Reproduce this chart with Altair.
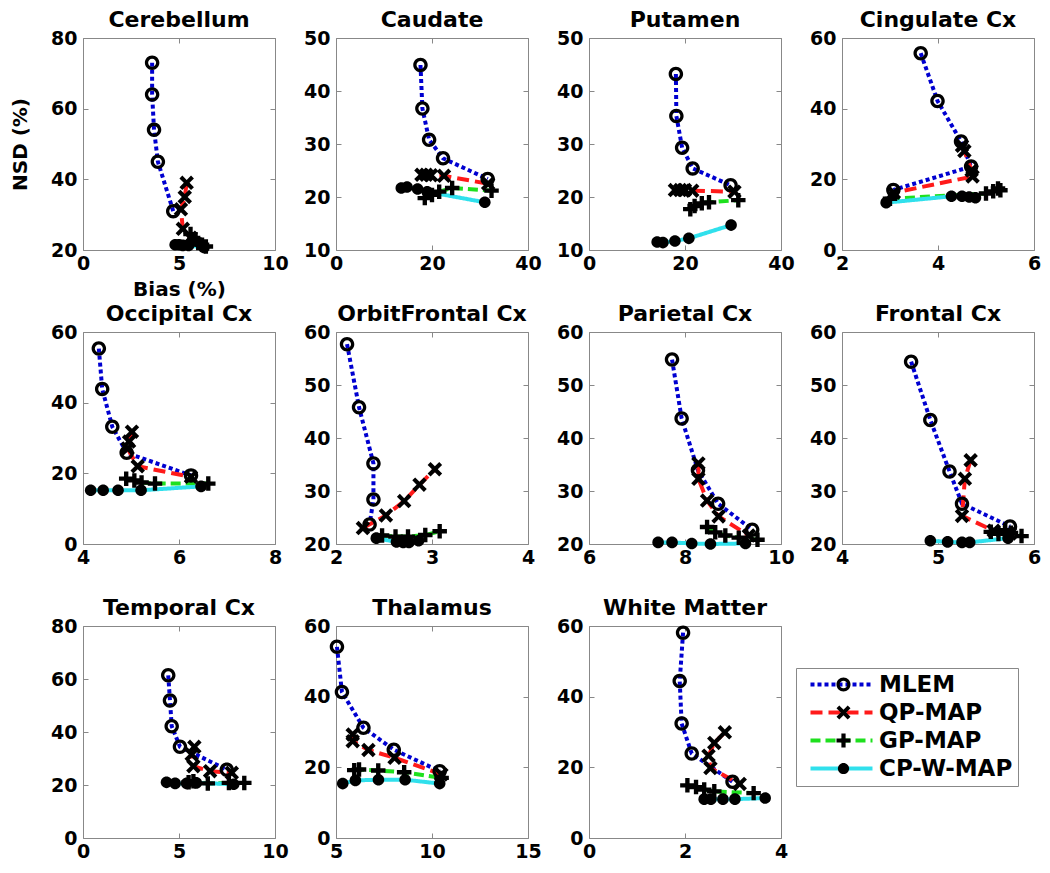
import altair as alt
import pandas as pd

REGIONS = ["Cerebellum", "Caudate", "Putamen", "Cingulate Cx",
           "Occipital Cx", "OrbitFrontal Cx", "Parietal Cx", "Frontal Cx",
           "Temporal Cx", "Thalamus", "White Matter"]
METHODS = ["MLEM", "QP-MAP", "GP-MAP", "CP-W-MAP"]

# ---- per-panel axes ----
X_DOMAINS = [[0, 10], [0, 40], [0, 40], [2, 6], [4, 8], [2, 4], [6, 10], [4, 6], [0, 10], [5, 15], [0, 4]]
X_TICKS = [[0, 5, 10], [0, 20, 40], [0, 20, 40], [2, 4, 6], [4, 6, 8], [2, 3, 4], [6, 8, 10], [4, 5, 6],
           [0, 5, 10], [5, 10, 15], [0, 2, 4]]
Y_DOMAINS = [[20, 80], [10, 50], [10, 50], [0, 60], [0, 60], [20, 60], [20, 60], [20, 60], [0, 80], [0, 60], [0, 60]]
Y_TICKS = [[20, 40, 60, 80], [10, 20, 30, 40, 50], [10, 20, 30, 40, 50], [0, 20, 40, 60], [0, 20, 40, 60],
           [20, 30, 40, 50, 60], [20, 30, 40, 50, 60], [20, 30, 40, 50, 60], [0, 20, 40, 60, 80],
           [0, 20, 40, 60], [0, 20, 40, 60]]

# ---- data (Bias %, NSD %) ----
cer_mlem_bias = [3.6, 3.6, 3.7, 3.9, 4.7]
cer_mlem_nsd = [73, 64, 54, 45, 31]
cer_qp_bias = [5.4, 5.3, 5.1, 5.2, 5.6]
cer_qp_nsd = [39, 35, 31.5, 26, 23.5]
cer_gp_bias = [5.6, 5.8, 6.0, 6.2, 6.4]
cer_gp_nsd = [24.5, 23.0, 22.0, 21.5, 21.0]
cer_cp_bias = [4.8, 5.0, 5.2, 5.5, 6.3]
cer_cp_nsd = [21.5, 21.5, 21.3, 21.3, 20.7]

cau_mlem_bias = [17.6, 18.0, 19.4, 22.3, 31.6]
cau_mlem_nsd = [44.9, 36.7, 30.8, 27.3, 23.4]
cau_qp_bias = [17.8, 18.8, 19.8, 22.5, 31.7]
cau_qp_nsd = [24.2, 24.2, 24.1, 24.0, 22.5]
cau_gp_bias = [18.5, 20.0, 21.5, 24.2, 32.4]
cau_gp_nsd = [19.8, 20.4, 21.0, 21.7, 21.2]
cau_cp_bias = [13.6, 14.8, 17.0, 19.0, 31.0]
cau_cp_nsd = [21.7, 21.9, 21.5, 21.0, 19.0]

put_mlem_bias = [18.1, 18.2, 19.4, 21.6, 29.5]
put_mlem_nsd = [43.2, 35.3, 29.3, 25.4, 22.2]
put_qp_bias = [17.9, 19.0, 20.0, 21.5, 30.3]
put_qp_nsd = [21.3, 21.3, 21.3, 21.2, 21.0]
put_gp_bias = [21.1, 22.0, 23.5, 25.0, 31.1]
put_gp_nsd = [17.7, 18.3, 18.8, 19.0, 19.4]
put_cp_bias = [14.2, 15.4, 17.9, 20.8, 29.6]
put_cp_nsd = [11.5, 11.4, 11.7, 12.2, 14.7]

cin_mlem_bias = [3.64, 3.99, 4.48, 4.69, 3.07]
cin_mlem_nsd = [55.7, 42.2, 30.7, 23.6, 17.0]
cin_qp_bias = [4.50, 4.55, 4.70, 4.72, 3.08]
cin_qp_nsd = [29.5, 28.0, 22.5, 20.8, 16.2]
cin_gp_bias = [3.0, 5.0, 5.15, 5.25, 5.3]
cin_gp_nsd = [14.5, 16.0, 16.6, 17.4, 16.9]
cin_cp_bias = [2.92, 4.28, 4.50, 4.65, 4.78]
cin_cp_nsd = [13.4, 15.2, 15.2, 15.0, 14.8]

occ_mlem_bias = [4.33, 4.40, 4.61, 4.91, 6.25]
occ_mlem_nsd = [55.3, 43.9, 33.2, 25.8, 19.4]
occ_qp_bias = [5.02, 4.96, 4.93, 5.14, 6.25]
occ_qp_nsd = [31.8, 29.0, 27.0, 22.0, 19.0]
occ_gp_bias = [4.90, 5.07, 5.22, 5.50, 6.61]
occ_gp_nsd = [18.5, 18.0, 17.4, 17.1, 17.1]
occ_cp_bias = [4.16, 4.42, 4.73, 5.21, 6.46]
occ_cp_nsd = [15.2, 15.2, 15.2, 15.2, 16.3]

orb_mlem_bias = [2.115, 2.24, 2.39, 2.39, 2.35]
orb_mlem_nsd = [57.7, 45.8, 35.2, 28.4, 23.7]
orb_qp_bias = [2.28, 2.52, 2.71, 2.87, 3.03]
orb_qp_nsd = [23.0, 25.4, 28.1, 31.2, 34.1]
orb_gp_bias = [2.48, 2.62, 2.75, 2.93, 3.08]
orb_gp_nsd = [21.6, 21.4, 21.4, 21.7, 22.4]
orb_cp_bias = [2.42, 2.63, 2.70, 2.76, 2.86]
orb_cp_nsd = [21.1, 20.4, 20.3, 20.3, 20.6]

par_mlem_bias = [7.73, 7.93, 8.27, 8.69, 9.40]
par_mlem_nsd = [54.8, 43.7, 33.9, 27.6, 22.7]
par_qp_bias = [8.28, 8.28, 8.46, 8.70, 9.33]
par_qp_nsd = [35.2, 32.3, 28.2, 25.2, 21.6]
par_gp_bias = [8.46, 8.63, 8.84, 9.12, 9.51]
par_gp_nsd = [23.2, 22.2, 21.6, 21.2, 20.8]
par_cp_bias = [7.44, 7.73, 8.14, 8.53, 9.26]
par_cp_nsd = [20.3, 20.3, 20.1, 20.0, 20.1]

fro_mlem_bias = [4.72, 4.92, 5.12, 5.25, 5.75]
fro_mlem_nsd = [54.4, 43.4, 33.7, 27.6, 23.3]
fro_qp_bias = [5.34, 5.28, 5.25, 5.58, 5.75]
fro_qp_nsd = [35.8, 32.3, 25.3, 22.5, 22.0]
fro_gp_bias = [5.55, 5.63, 5.70, 5.76, 5.87]
fro_gp_nsd = [22.3, 21.9, 22.6, 22.1, 21.5]
fro_cp_bias = [4.92, 5.10, 5.25, 5.33, 5.73]
fro_cp_nsd = [20.6, 20.4, 20.3, 20.3, 21.1]

tem_mlem_bias = [4.44, 4.53, 4.62, 5.05, 7.49]
tem_mlem_nsd = [61.4, 51.9, 42.2, 34.4, 25.8]
tem_qp_bias = [5.80, 5.66, 5.75, 6.62, 7.75]
tem_qp_nsd = [34.4, 31.5, 27.1, 25.2, 24.6]
tem_gp_bias = [5.50, 5.75, 6.50, 7.60, 8.40]
tem_gp_nsd = [21.0, 21.4, 20.6, 20.8, 20.8]
tem_cp_bias = [4.35, 4.80, 5.40, 5.90, 7.85]
tem_cp_nsd = [21.0, 20.6, 20.6, 20.8, 20.3]

tha_mlem_bias = [5.05, 5.31, 6.43, 8.01, 10.40]
tha_mlem_nsd = [54.1, 41.3, 31.2, 25.0, 18.9]
tha_qp_bias = [5.87, 5.87, 6.69, 8.05, 10.49]
tha_qp_nsd = [29.3, 27.4, 24.9, 22.7, 18.0]
tha_gp_bias = [5.95, 6.20, 7.20, 8.55, 10.50]
tha_gp_nsd = [19.2, 19.4, 19.1, 18.6, 17.0]
tha_cp_bias = [5.35, 6.01, 7.21, 8.60, 10.40]
tha_cp_nsd = [15.4, 16.3, 16.5, 16.5, 15.4]

wm_mlem_bias = [1.96, 1.89, 1.93, 2.14, 2.99]
wm_mlem_nsd = [58.1, 44.4, 32.4, 23.9, 15.9]
wm_qp_bias = [2.83, 2.61, 2.49, 2.53, 3.14]
wm_qp_nsd = [29.9, 26.9, 23.3, 19.8, 15.3]
wm_gp_bias = [2.05, 2.23, 2.40, 2.61, 3.43]
wm_gp_nsd = [14.9, 14.4, 13.7, 13.2, 12.7]
wm_cp_bias = [2.40, 2.54, 2.79, 3.04, 3.67]
wm_cp_nsd = [11.0, 11.0, 11.0, 11.0, 11.3]

SERIES = [
    ("Cerebellum", [(cer_mlem_bias, cer_mlem_nsd), (cer_qp_bias, cer_qp_nsd), (cer_gp_bias, cer_gp_nsd), (cer_cp_bias, cer_cp_nsd)]),
    ("Caudate", [(cau_mlem_bias, cau_mlem_nsd), (cau_qp_bias, cau_qp_nsd), (cau_gp_bias, cau_gp_nsd), (cau_cp_bias, cau_cp_nsd)]),
    ("Putamen", [(put_mlem_bias, put_mlem_nsd), (put_qp_bias, put_qp_nsd), (put_gp_bias, put_gp_nsd), (put_cp_bias, put_cp_nsd)]),
    ("Cingulate Cx", [(cin_mlem_bias, cin_mlem_nsd), (cin_qp_bias, cin_qp_nsd), (cin_gp_bias, cin_gp_nsd), (cin_cp_bias, cin_cp_nsd)]),
    ("Occipital Cx", [(occ_mlem_bias, occ_mlem_nsd), (occ_qp_bias, occ_qp_nsd), (occ_gp_bias, occ_gp_nsd), (occ_cp_bias, occ_cp_nsd)]),
    ("OrbitFrontal Cx", [(orb_mlem_bias, orb_mlem_nsd), (orb_qp_bias, orb_qp_nsd), (orb_gp_bias, orb_gp_nsd), (orb_cp_bias, orb_cp_nsd)]),
    ("Parietal Cx", [(par_mlem_bias, par_mlem_nsd), (par_qp_bias, par_qp_nsd), (par_gp_bias, par_gp_nsd), (par_cp_bias, par_cp_nsd)]),
    ("Frontal Cx", [(fro_mlem_bias, fro_mlem_nsd), (fro_qp_bias, fro_qp_nsd), (fro_gp_bias, fro_gp_nsd), (fro_cp_bias, fro_cp_nsd)]),
    ("Temporal Cx", [(tem_mlem_bias, tem_mlem_nsd), (tem_qp_bias, tem_qp_nsd), (tem_gp_bias, tem_gp_nsd), (tem_cp_bias, tem_cp_nsd)]),
    ("Thalamus", [(tha_mlem_bias, tha_mlem_nsd), (tha_qp_bias, tha_qp_nsd), (tha_gp_bias, tha_gp_nsd), (tha_cp_bias, tha_cp_nsd)]),
    ("White Matter", [(wm_mlem_bias, wm_mlem_nsd), (wm_qp_bias, wm_qp_nsd), (wm_gp_bias, wm_gp_nsd), (wm_cp_bias, wm_cp_nsd)]),
]

rows = []
for region, series in SERIES:
    for method, (bias, nsd) in zip(METHODS, series):
        for i, (b, n) in enumerate(zip(bias, nsd)):
            rows.append({"region": region, "method": method, "mk": method, "i": i, "bias": b, "nsd": n})
df = pd.DataFrame(rows)

# ---- styles ----
FONT = "DejaVu Sans"
COLORS = ["#0000d0", "#ff1a1a", "#1ee01e", "#30e0ec"]
DASHES = [[4, 3], [12, 6], [10, 5], [1, 0]]
RING = "M1,0A1,1 0 1,1 -1,0A1,1 0 1,1 1,0Z M0.55,0A0.55,0.55 0 1,0 -0.55,0A0.55,0.55 0 1,0 0.55,0Z"
XMARK = "M-1,-0.6L-0.6,-1L0,-0.4L0.6,-1L1,-0.6L0.4,0L1,0.6L0.6,1L0,0.4L-0.6,1L-1,0.6L-0.4,0Z"
PLUS = "M-0.3,-1L0.3,-1L0.3,-0.3L1,-0.3L1,0.3L0.3,0.3L0.3,1L-0.3,1L-0.3,0.3L-1,0.3L-1,-0.3L-0.3,-0.3Z"
DOT = "M0.8,0A0.8,0.8 0 1,1 -0.8,0A0.8,0.8 0 1,1 0.8,0Z"
SHAPES = [RING, XMARK, PLUS, DOT]
LEG_LINE = "M-0.286,0L8.571,0"
TICK = 5  # inward tick length

W, H = 192, 212
LEG_X, LEG_Y = 713, 630

legA = alt.Legend(orient="none", legendX=LEG_X, legendY=LEG_Y, offset=0, title=None,
                  symbolType=LEG_LINE, symbolSize=196, symbolStrokeWidth=4,
                  labelFont=FONT, labelFontSize=23, labelFontWeight="bold", labelColor="black",
                  labelOffset=55, rowPadding=4, padding=5, strokeColor="#888888")
legB = alt.Legend(orient="none", legendX=LEG_X + 31, legendY=LEG_Y, offset=0, title=None,
                  symbolSize=196, symbolFillColor="black", symbolStrokeWidth=0,
                  labelFont=FONT, labelFontSize=23, labelFontWeight="bold", labelExpr="' '",
                  labelOffset=2, rowPadding=4, padding=5)


def panel(k):
    name = REGIONS[k]
    base = alt.Chart(df).transform_filter(alt.datum.region == name)
    xs = alt.Scale(domain=X_DOMAINS[k], nice=False, zero=False)
    ys = alt.Scale(domain=Y_DOMAINS[k], nice=False, zero=False)
    # bottom/left axes: labels + inward ticks
    xax = alt.Axis(values=X_TICKS[k], format=".0f", title="Bias (%)" if k == 0 else None, titlePadding=6,
                   offset=-TICK, tickSize=TICK, labelPadding=4)
    yax = alt.Axis(values=Y_TICKS[k], format=".0f", title="NSD (%)" if k == 0 else None, titlePadding=20,
                   offset=-TICK, tickSize=TICK, labelPadding=6)
    # top/right axes: inward ticks only
    xtop = alt.Axis(orient="top", values=X_TICKS[k], labels=False, title=None, offset=-TICK, tickSize=TICK)
    yright = alt.Axis(orient="right", values=Y_TICKS[k], labels=False, title=None, offset=-TICK, tickSize=TICK)
    lines = base.mark_line(strokeWidth=4).encode(
        x=alt.X("bias:Q", scale=xs, axis=xax),
        y=alt.Y("nsd:Q", scale=ys, axis=yax),
        color=alt.Color("method:N", scale=alt.Scale(domain=METHODS, range=COLORS), legend=legA),
        strokeDash=alt.StrokeDash("method:N", scale=alt.Scale(domain=METHODS, range=DASHES), legend=legA),
        order="i:Q",
    )
    points = base.mark_point(filled=True, size=210, opacity=1).encode(
        x=alt.X("bias:Q", scale=xs, axis=xtop),
        y=alt.Y("nsd:Q", scale=ys, axis=yright),
        shape=alt.Shape("mk:N", sort=METHODS, scale=alt.Scale(range=SHAPES), legend=legB),
        color=alt.value("black"),
    )
    return alt.layer(lines, points).resolve_scale(x="independent", y="independent").properties(
        width=W, height=H, title=name)


chart = alt.concat(*[panel(k) for k in range(len(REGIONS))], columns=4,
                   spacing={"row": 82, "column": 61}, bounds="flush").properties(
    padding={"left": 2, "top": 0, "right": 0, "bottom": 0}
).configure_view(stroke="#888888", strokeWidth=1).configure_axis(
    labelFont=FONT, labelFontWeight="bold", labelFontSize=19, labelColor="black",
    titleFont=FONT, titleFontWeight="bold", titleFontSize=20, titleColor="black",
    domain=False, ticks=True, tickColor="#888888", tickWidth=1, grid=False,
    labelFlush=False, labelOverlap=False
).configure_title(font=FONT, fontSize=22, fontWeight="bold", color="black", offset=-3, frame="group")

chart.save("out.html", embed_options={"renderer": "svg", "actions": False})
